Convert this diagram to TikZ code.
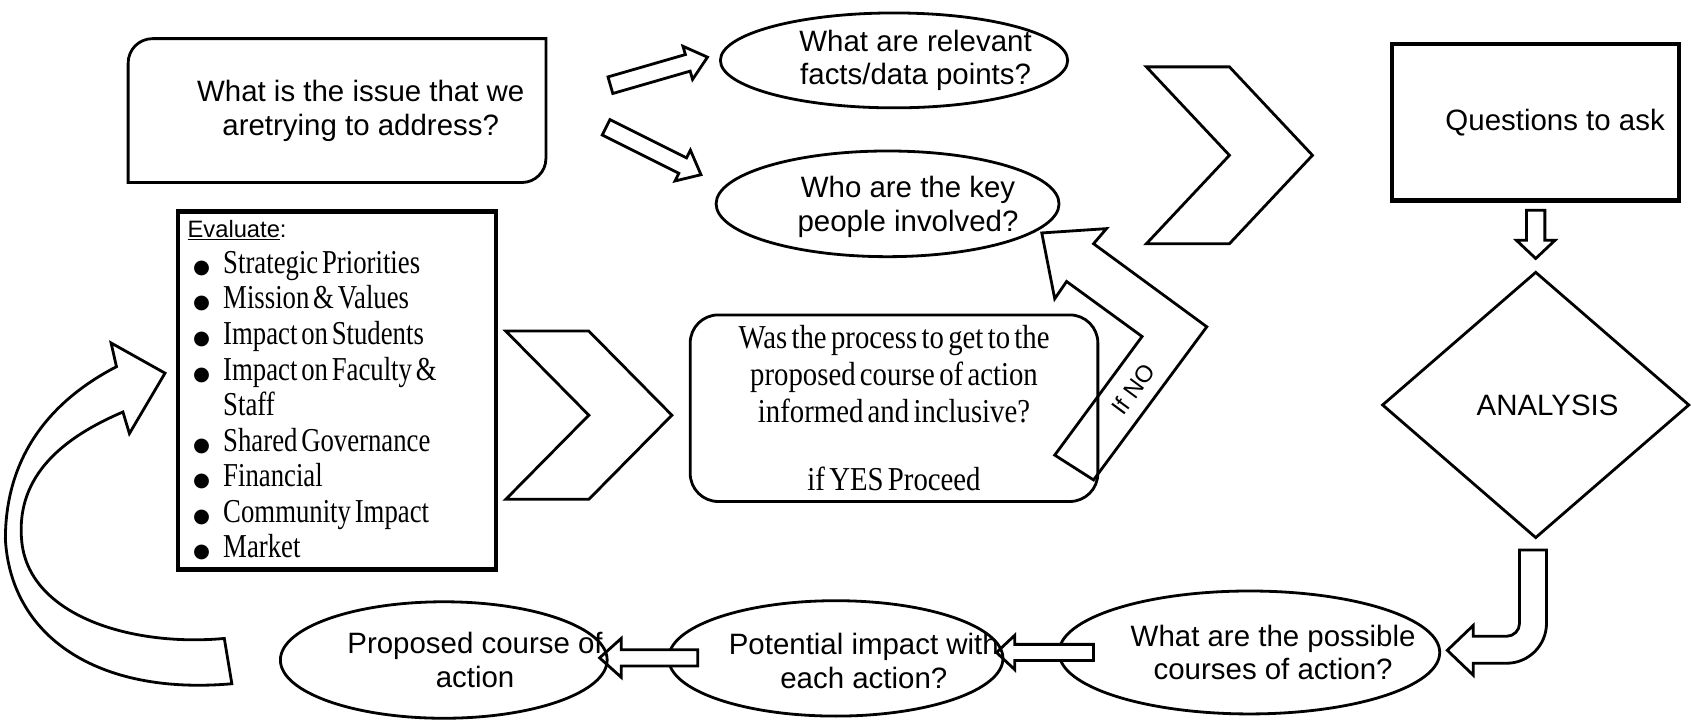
\documentclass[tikz,border=0pt]{standalone}
\usepackage{fontspec}
\setmainfont{Liberation Serif}
\setsansfont{Liberation Sans}
\newfontfamily\listserif[FakeStretch=0.8]{Liberation Serif}
\newfontfamily\condserif[FakeStretch=0.86]{Liberation Serif}
\newfontfamily\bulletfont{DejaVu Sans}
\newcommand{\listfont}{\listserif\fontsize{31}{33}\selectfont\spaceskip=3.5pt plus 1pt\relax}
\newcommand{\processfont}{\condserif\fontsize{31}{34}\selectfont\spaceskip=4pt plus 1pt\relax}
\usetikzlibrary{shapes.geometric, positioning, calc}
\tikzstyle{plainline} = [draw=black, line width=2.6, line join=miter]
\tikzstyle{blockline} = [plainline, fill=white]
\tikzstyle{qtext} = [font=\sffamily\fontsize{27.3}{31.5}\selectfont, align=center, inner sep=0pt]
\tikzstyle{qell} = [ellipse, plainline, inner sep=0pt]
\tikzstyle{thickbox} = [rectangle, draw=black, line width=4, inner sep=0pt]
\newcommand{\evitem}[1]{\hspace*{5pt}\makebox[28pt][l]{\bulletfont\fontsize{18}{18}\selectfont ●}#1}
% block arrow: tail, tip, shaft half width, head half width, head length
\newcommand{\blkarrow}[5]{%
  \coordinate (hb) at ($(#2)!#5!(#1)$);
  \draw[blockline] ($(#1)!#3!90:(#2)$) -- ($(hb)!#3!90:(#2)$) -- ($(hb)!#4!90:(#2)$) -- (#2)
    -- ($(hb)!#4!-90:(#2)$) -- ($(hb)!#3!-90:(#2)$) -- ($(#1)!#3!-90:(#2)$) -- cycle;}
% chevron: left x, top y, depth, half height
\newcommand{\chevron}[4]{%
  \draw[blockline] (#1,#2) -- ++(#3,0) -- ++(#3,#4) -- ++(-#3,#4) -- ++(-#3,0) -- ++(#3,-#4) -- cycle;}

\begin{document}
\begin{tikzpicture}[x=1pt, y=-1pt]
\useasboundingbox (0,0) rectangle (1568,667);

% top row
\node[rectangle, minimum width=387, minimum height=133, inner sep=0pt,
  label={[qtext,xshift=22]center:{What is the issue that we\\aretrying to address?}}] (issue) at (312.5,102.5) {};
\draw[plainline] (issue.south west) -- ([yshift=-23]issue.north west)
  .. controls ([yshift=-10]issue.north west) and ([xshift=10]issue.north west) .. ([xshift=23]issue.north west)
  -- (issue.north east) -- ([yshift=22]issue.south east)
  .. controls ([yshift=10]issue.south east) and ([xshift=-10]issue.south east) .. ([xshift=-22]issue.south east) -- cycle;
\node[qell, minimum width=322, minimum height=88,
  label={[qtext,xshift=20]center:{What are relevant\\facts/data points?}}] (facts) at (829,56) {};
\node[qell, minimum width=318, minimum height=98,
  label={[qtext,xshift=19,yshift=-3]center:{Who are the key\\people involved?}}] (people) at (823,189) {};
\coordinate (arA0) at (566,79);
\coordinate (arA1) at (656,53);
\coordinate (arB0) at (562,118);
\coordinate (arB1) at (650,162);
\blkarrow{arA0}{arA1}{8pt}{16pt}{19pt}
\blkarrow{arB0}{arB1}{8pt}{16pt}{19pt}
\chevron{1063}{62}{77}{82}

% right column
\node[thickbox, minimum width=266, minimum height=145,
  label={[qtext,xshift=18]center:Questions to ask}] (quest) at (1424,113.5) {};
\node[diamond, plainline, minimum width=285, minimum height=247, inner sep=0pt, node distance=262, below of=quest,
  label={[qtext,xshift=11]center:ANALYSIS}] (analysis) {};
\coordinate (qa0) at ([yshift=-7]quest.south);
\coordinate (qa1) at ([yshift=11]analysis.north);
\blkarrow{qa0}{qa1}{8.5pt}{18pt}{17pt}
\draw[blockline] (1409,510) -- (1409,578) .. controls (1409,584.6) and (1403.6,590) .. (1397,590) -- (1366,590) -- (1366,580)
  -- (1342,603) -- (1366,626) -- (1366,615) -- (1397,615) .. controls (1417.4,615) and (1434,598.4) .. (1434,578) -- (1434,510) -- cycle;

% middle row
\node[thickbox, minimum width=295, minimum height=332, text width=277, align=flush left, font=\listfont] (eval) at (312.5,362) {%
  \spaceskip=3.5pt plus 1pt\relax
  {\sffamily\fontsize{22}{33}\selectfont\underline{Evaluate}:}\\
  \evitem{Strategic Priorities}\\
  \evitem{Mission \& Values}\\
  \evitem{Impact on Students}\\
  \evitem{Impact on Faculty \&}\\
  \hspace*{33pt}Staff\\
  \evitem{Shared Governance}\\
  \evitem{Financial}\\
  \evitem{Community Impact}\\
  \evitem{Market}};
\chevron{469}{307}{77}{78}
\node[rectangle, rounded corners=26, plainline, minimum width=378, minimum height=173, align=center,
  font=\processfont] (process) at (829,378.5)
  {Was the process to get to the\\proposed course of action\\informed and inclusive?\\[29pt]if YES Proceed};
\draw[plainline] (966,216) -- (1026,212) -- (1014,226) -- (1119,303) -- (1014,445) -- (978,422) -- (1059,312)
  -- (989,261) -- (978,277) -- cycle;
\node[qtext, font=\sffamily\fontsize{22}{25}\selectfont, rotate=53.5] (ifno) at (1051,361) {If NO};

% bottom row, right to left
\node[qell, minimum width=353, minimum height=114,
  label={[qtext,xshift=22]center:{What are the possible\\courses of action?}}] (courses) at (1158.5,605) {};
\coordinate (ci0) at (1014,605);
\coordinate (ci1) at (924,605);
\blkarrow{ci0}{ci1}{7.5pt}{16pt}{17pt}
\node[qell, minimum width=310, minimum height=107,
  label={[qtext,xshift=26,yshift=-2]center:{Potential impact with\\each action?}}] (impact) at (775,610.5) {};
\coordinate (ip0) at (647,610);
\coordinate (ip1) at (556,610);
\blkarrow{ip0}{ip1}{7.5pt}{18pt}{20pt}
\node[qell, minimum width=303, minimum height=108,
  label={[qtext,xshift=29]center:{Proposed course of\\action}}] (proposed) at (411.5,612) {};

% loop back to evaluate
\draw[plainline] (108,340) -- (103,318) -- (153,346) -- (120,402) -- (114,382) .. controls (60,405) and (15,440) .. (20,500)
  .. controls (25,570) and (120,600) .. (208,592) -- (215,634) .. controls (90,645) and (10,590) .. (5,500)
  .. controls (5,420) and (50,370) .. (108,340) -- cycle;
\end{tikzpicture}
\end{document}
